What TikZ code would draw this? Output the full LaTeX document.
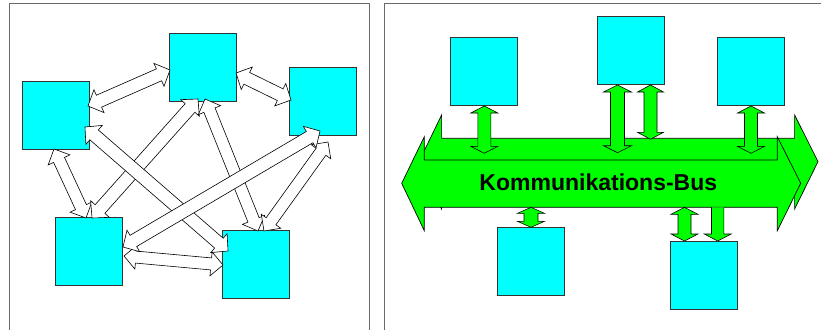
\documentclass[tikz,border=0pt]{standalone}
\usepackage{fontspec}
\newfontfamily\busfont{Liberation Sans}
\usetikzlibrary{calc}
\definecolor{boxcyan}{HTML}{00FFFF}
\definecolor{busgreen}{HTML}{00FF00}
\definecolor{framegray}{HTML}{6A6A6A}
% #1 style, #2 start, #3 end, #4 shaft half width, #5 head half width, #6 head length
\newcommand{\dblarrow}[6]{%
  \coordinate (ta) at ($(#2)!#6!(#3)$);
  \coordinate (tb) at ($(#3)!#6!(#2)$);
  \draw[#1] (#2) -- ($(ta)!#5!90:(#3)$) -- ($(ta)!#4!90:(#3)$)
    -- ($(tb)!#4!-90:(#2)$) -- ($(tb)!#5!-90:(#2)$) -- (#3)
    -- ($(tb)!#5!90:(#2)$) -- ($(tb)!#4!90:(#2)$)
    -- ($(ta)!#4!-90:(#3)$) -- ($(ta)!#5!-90:(#3)$) -- cycle;
}
\tikzset{
  frameline/.style={draw=framegray, line width=1pt},
  sq/.style={draw=black!80, fill=boxcyan, line width=0.7pt, minimum width=67pt,
    minimum height=68pt, inner sep=0pt, outer sep=0pt},
  warrow/.style={draw=black, fill=white, line width=0.6pt, line join=miter},
  garrow/.style={draw=black, fill=busgreen, line width=0.6pt, line join=miter},
  busshape/.style={draw=black, fill=busgreen, line width=0.7pt, line join=miter},
  buslabel/.style={font={\busfont\bfseries\fontsize{23pt}{27pt}\selectfont}, anchor=base, inner sep=0pt}
}
\begin{document}
\begin{tikzpicture}[x=1pt,y=-1pt]
\useasboundingbox (0,0) rectangle (821,330);
% panel frames
\draw[frameline] (9.3,330) -- (9.3,3.5) -- (369.3,3.5) -- (369.3,330);
\draw[frameline] (384.7,330) -- (384.7,3.5) -- (821,3.5);

% ---------- left panel ----------
\node[sq] (T)  at (202.8,67.3) {};
\node[sq] (L)  at (56,115) {};
\node[sq] (R)  at (322.8,101.3) {};
\node[sq] (BL) at (89.3,251) {};
\node[sq] (BR) at (256,264.2) {};

\coordinate (a1s) at (88,106);   \coordinate (a1e) at (170,70);
\coordinate (a2s) at (236,73);   \coordinate (a2e) at (291,100);
\coordinate (a3s) at (54,149);   \coordinate (a3e) at (86,218);
\coordinate (a4s) at (92,218);   \coordinate (a4e) at (198,99);
\coordinate (a5s) at (205,99);   \coordinate (a5e) at (258,231);
\coordinate (a6s) at (85,127);   \coordinate (a6e) at (228,251);
\coordinate (a7s) at (123,247);  \coordinate (a7e) at (320,131);
\coordinate (a8s) at (264,231);  \coordinate (a8e) at (328,142);
\coordinate (a9s) at (124,256);  \coordinate (a9e) at (223,265);

\dblarrow{warrow}{a1s}{a1e}{6.5pt}{12.5pt}{12pt}
\dblarrow{warrow}{a2s}{a2e}{6.5pt}{12.5pt}{12pt}
\dblarrow{warrow}{a3s}{a3e}{6pt}{12pt}{12pt}
\dblarrow{warrow}{a4s}{a4e}{6.5pt}{12.5pt}{12pt}
\dblarrow{warrow}{a6s}{a6e}{6.5pt}{12.5pt}{12pt}
\dblarrow{warrow}{a5s}{a5e}{6pt}{12pt}{12pt}
\dblarrow{warrow}{a9s}{a9e}{6pt}{12pt}{12pt}
\dblarrow{warrow}{a8s}{a8e}{6pt}{12pt}{12pt}
\dblarrow{warrow}{a7s}{a7e}{6.5pt}{12.5pt}{12pt}

% ---------- right panel ----------
\node[sq] (A) at (484.3,71.3) {};
\node[sq] (B) at (630.8,50.8) {};
\node[sq] (C) at (751,71.3) {};
\node[sq] (D) at (531,261.7) {};
\node[sq] (E) at (704.3,275.2) {};

% communication bus (3D block arrow: back face, then front face)
\begin{scope}[shift={(17.3,-21.7)}]
\draw[busshape] (401.7,183.3) -- (424.3,136.7) -- (424.3,160) -- (777.3,160)
  -- (777.3,136.7) -- (800.7,183.3) -- (777.3,230.7) -- (777.3,207.3)
  -- (424.3,207.3) -- (424.3,230.7) -- cycle;
\end{scope}
\draw[busshape] (401.7,183.3) -- (424.3,136.7) -- (424.3,160) -- (777.3,160)
  -- (777.3,136.7) -- (800.7,183.3) -- (777.3,230.7) -- (777.3,207.3)
  -- (424.3,207.3) -- (424.3,230.7) -- cycle;
\node[buslabel] (bus) at (598.3,190.7) {Kommunikations-Bus};

\coordinate (g1s) at (484.3,106);   \coordinate (g1e) at (484.3,153.3);
\coordinate (g2s) at (617.5,85);    \coordinate (g2e) at (617.5,152.7);
\coordinate (g3s) at (650.5,85);    \coordinate (g3e) at (650.5,139.3);
\coordinate (g4s) at (751,106);     \coordinate (g4e) at (751,153.3);
\coordinate (g5s) at (531,207.3);   \coordinate (g5e) at (531,227.3);
\coordinate (g6s) at (684.5,207.3); \coordinate (g6e) at (684.5,241);

\dblarrow{garrow}{g1s}{g1e}{6.5pt}{13.5pt}{7pt}
\dblarrow{garrow}{g2s}{g2e}{7pt}{14pt}{7pt}
\dblarrow{garrow}{g3s}{g3e}{6.5pt}{13pt}{7pt}
\dblarrow{garrow}{g4s}{g4e}{6.5pt}{13.5pt}{7pt}
\dblarrow{garrow}{g5s}{g5e}{7pt}{13.5pt}{6pt}
\dblarrow{garrow}{g6s}{g6e}{6.5pt}{13.5pt}{7pt}
% single arrow from bus down to box E
\coordinate (g7s) at (717.7,207.3); \coordinate (g7e) at (717.7,241);
\draw[garrow] ($(g7s)+(-6.2,0)$) -- ($(g7e)+(-6.2,-7)$) -- ($(g7e)+(-13.4,-7)$) -- (g7e)
  -- ($(g7e)+(13.4,-7)$) -- ($(g7e)+(6.2,-7)$) -- ($(g7s)+(6.2,0)$);
\end{tikzpicture}
\end{document}
